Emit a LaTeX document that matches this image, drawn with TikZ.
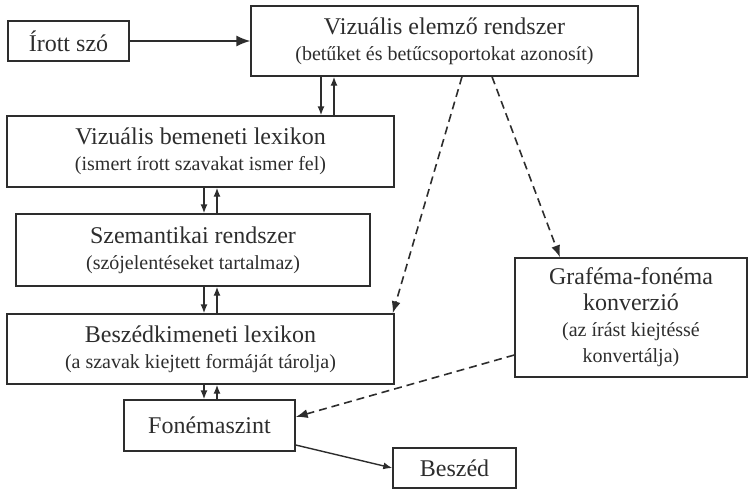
\documentclass[tikz,border=0pt]{standalone}
\usepackage{fontspec}
\setmainfont{Liberation Serif}
\usepackage{xcolor}
\definecolor{inkgray}{RGB}{45, 45, 45}
\usetikzlibrary{arrows.meta}
\tikzset{
  box/.style={draw=inkgray, line width=1.4pt, inner sep=0pt,
    align=center, text=inkgray, font=\fontsize{24}{26}\selectfont},
  link/.style={draw=inkgray, line width=1.4pt,
    -{Latex[length=9pt,width=7pt]}},
  biglink/.style={link, -{Latex[length=14pt,width=11pt]}},
  dashlink/.style={link, line width=1.6pt, dash pattern=on 8pt off 5pt,
    -{Latex[length=12pt,width=9pt]}}
}
\newcommand{\subline}[1]{{\fontsize{20}{26}\selectfont #1}}

\begin{document}
\begin{tikzpicture}[x=1pt,y=-1pt]
\useasboundingbox
  (0,0) rectangle (753,490);

\node[box, minimum width=121pt, minimum height=40pt]
  (irott) at (68.5,41) {Írott szó};
\node[box, minimum width=387pt, minimum height=70pt]
  (vizelem) at (444.5,41)
  {Vizuális elemző rendszer\\ \subline{(betűket és betűcsoportokat azonosít)}};
\node[box, minimum width=387pt, minimum height=71pt]
  (vizbem) at (200.5,151.5)
  {Vizuális bemeneti lexikon\\ \subline{(ismert írott szavakat ismer fel)}};
\node[box, minimum width=354pt, minimum height=72pt]
  (szem) at (193,250)
  {Szemantikai rendszer\\ \subline{(szójelentéseket tartalmaz)}};
\node[box, minimum width=387pt, minimum height=70pt]
  (beszki) at (200.5,349)
  {Beszédkimeneti lexikon\\ \subline{(a szavak kiejtett formáját tárolja)}};
\node[box, minimum width=232pt, minimum height=119pt]
  (graf) at (631,317.5)
  {Graféma-fonéma\\ konverzió\\ \subline{(az írást kiejtéssé}\\
    \subline{konvertálja)}};
\node[box, minimum width=171pt, minimum height=51pt]
  (fonema) at (209.5,425.5) {Fonémaszint};
\node[box, minimum width=123pt, minimum height=40pt]
  (beszed) at (454.5,468) {Beszéd};

\draw[biglink] (irott.east) -- (vizelem.west);

\draw[link] ([xshift=-123.5pt]vizelem.south)
  -- ([xshift=-123.5pt]vizelem.south |- vizbem.north);
\draw[link] ([xshift=-110.5pt]vizelem.south |- vizbem.north)
  -- ([xshift=-110.5pt]vizelem.south);

\draw[link] ([xshift=3.5pt]vizbem.south)
  -- ([xshift=3.5pt]vizbem.south |- szem.north);
\draw[link] ([xshift=16.5pt]vizbem.south |- szem.north)
  -- ([xshift=16.5pt]vizbem.south);

\draw[link] ([xshift=3.5pt]vizbem.south |- szem.south)
  -- ([xshift=3.5pt]vizbem.south |- beszki.north);
\draw[link] ([xshift=16.5pt]vizbem.south |- beszki.north)
  -- ([xshift=16.5pt]vizbem.south |- szem.south);

\draw[link] ([xshift=3.5pt]beszki.south)
  -- ([xshift=3.5pt]beszki.south |- fonema.north);
\draw[link] ([xshift=16.5pt]beszki.south |- fonema.north)
  -- ([xshift=16.5pt]beszki.south);

\draw[dashlink] ([xshift=17.5pt]vizelem.south)
  -- ([xshift=-2pt]beszki.north east);
\draw[dashlink] ([xshift=47.5pt]vizelem.south)
  -- ([xshift=-71pt]graf.north);
\draw[dashlink] ([yshift=-37.5pt]graf.west)
  -- ([yshift=8.5pt]fonema.east);

\draw[link] ([yshift=-19.5pt]fonema.east) -- (beszed.west);
\end{tikzpicture}
\end{document}
